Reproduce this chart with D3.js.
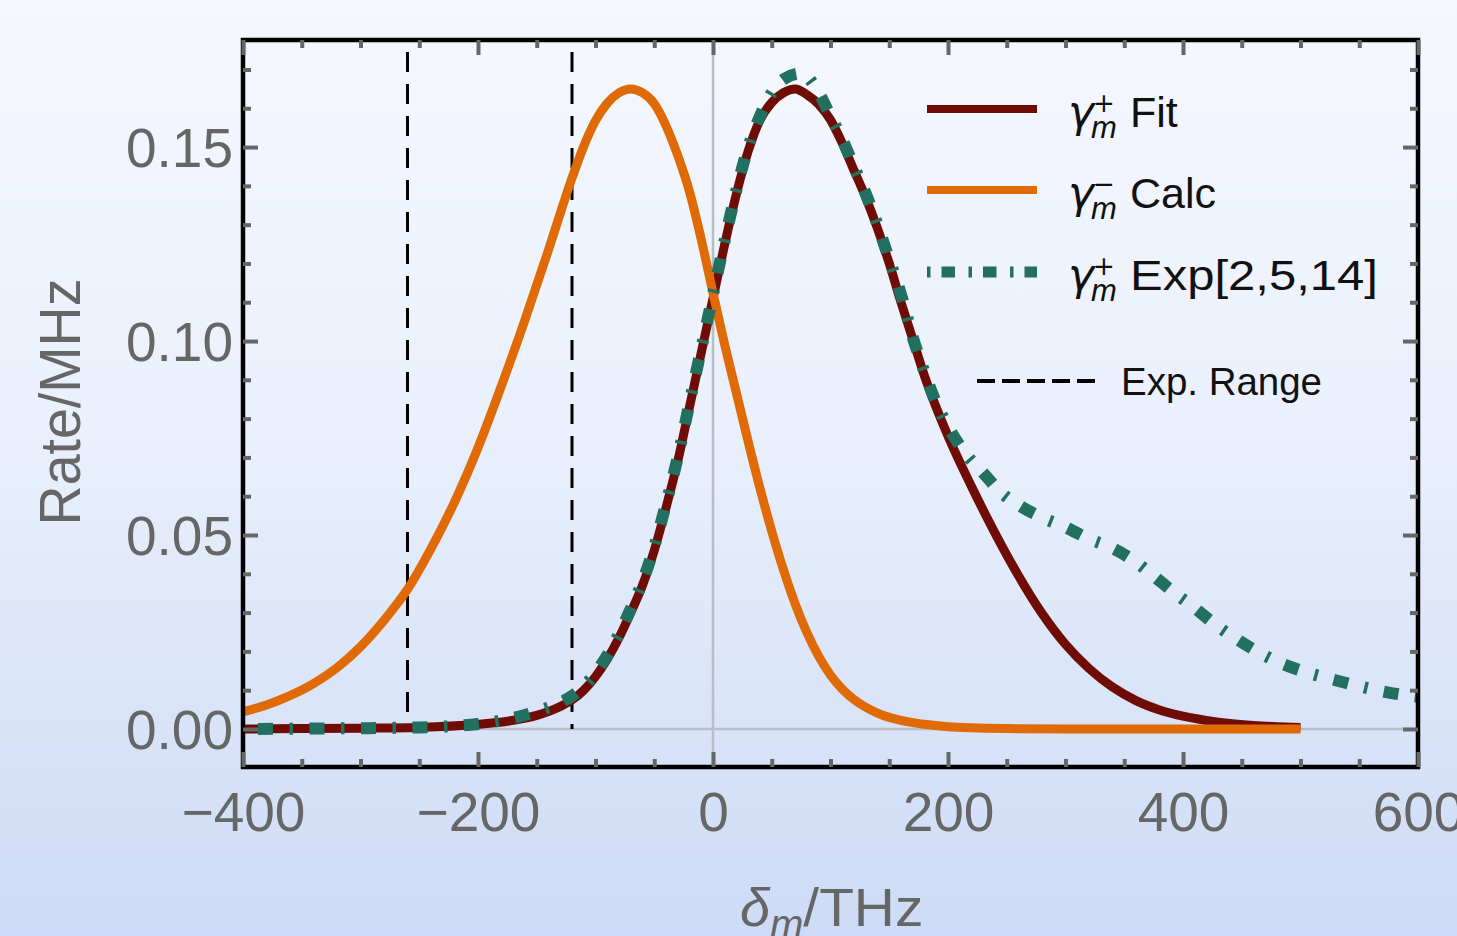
<!DOCTYPE html>
<html>
<head>
<meta charset="utf-8">
<script src="https://cdn.jsdelivr.net/npm/d3@7"></script>
<style>
  html, body { margin: 0; padding: 0; }
  body { width: 1457px; height: 936px; overflow: hidden; }
  svg { display: block; }
</style>
</head>
<body>
<svg id="chart" width="1457" height="936"></svg>
<script>
// ---------------- data ----------------
const calcX = [-400,-380,-360,-340,-320,-300,-280,-260,-240,-220,-200,-180,-160,-140,-120,-110,-100,-90,-80,-70,-60,-50,-40,-30,-20,-10,0,10,20,30,40,50,60,70,80,90,100,110,120,140,160,180,200,220,250,300,350,400,450,500];
const calcY = [0.0044,0.0062,0.0086,0.0117,0.0158,0.0212,0.028,0.036,0.0465,0.0585,0.0725,0.0885,0.1055,0.1235,0.142,0.1502,0.1568,0.1613,0.164,0.165,0.164,0.1612,0.1555,0.1478,0.1385,0.1262,0.1124,0.099,0.0865,0.074,0.062,0.051,0.041,0.0322,0.0248,0.0187,0.0139,0.0103,0.0076,0.0041,0.0022,0.0012,0.0006,0.0003,0.0001,0,0,0,0,0];

const fitX = [-400,-350,-300,-250,-200,-175,-150,-130,-120,-110,-100,-90,-80,-70,-60,-50,-40,-30,-20,-10,0,10,20,30,40,50,60,70,80,90,100,110,120,130,140,150,160,170,180,200,220,240,260,280,300,320,340,360,380,400,420,440,460,480,500];
const fitY = [0,0.0001,0.0002,0.0004,0.0012,0.002,0.0035,0.0058,0.0075,0.010,0.0135,0.018,0.0235,0.030,0.037,0.046,0.057,0.069,0.083,0.097,0.111,0.125,0.138,0.149,0.157,0.1615,0.164,0.165,0.1635,0.161,0.157,0.151,0.144,0.137,0.129,0.120,0.110,0.1005,0.091,0.0755,0.0625,0.0505,0.0395,0.0298,0.0218,0.0156,0.0108,0.0073,0.0049,0.0033,0.0022,0.0014,0.0009,0.0006,0.0004];

const expX = [-400,-350,-300,-250,-200,-175,-150,-130,-120,-110,-100,-90,-80,-70,-60,-50,-40,-30,-20,-10,0,10,20,30,40,50,60,75,90,100,110,120,130,140,150,160,170,180,190,200,215,230,245,263,280,300,320,340,360,376,393,410,427,444,463,483,503,523,545,565,587,600];
const expY = [0,0.0001,0.0002,0.0004,0.0013,0.0025,0.0045,0.0068,0.0085,0.011,0.0145,0.019,0.0245,0.031,0.038,0.047,0.058,0.070,0.084,0.098,0.112,0.126,0.139,0.150,0.158,0.164,0.1675,0.169,0.164,0.158,0.152,0.145,0.138,0.130,0.121,0.112,0.101,0.092,0.084,0.078,0.071,0.066,0.061,0.0572,0.0545,0.052,0.049,0.0466,0.043,0.0392,0.035,0.0312,0.027,0.0235,0.020,0.017,0.0148,0.0131,0.0114,0.010,0.0088,0.0083];

const expRange = [-260, -120];

const xTickLabels = [-400, -200, 0, 200, 400, 600];
const yTickLabels = [0.00, 0.05, 0.10, 0.15];

const legendNames = ["Fit", "Calc", "Exp[2,5,14]"];
const legendSigns = ["+", "\u2212", "+"];

// ---------------- layout ----------------
const W = 1457, H = 936;
const L = 243, R = 1418, T = 40, B = 767;
const colRed = "#700c06", colOrange = "#df6a06", colTeal = "#22705f", colGray = "#666666";

const svg = d3.select("#chart");
const defs = svg.append("defs");
const grad = defs.append("linearGradient").attr("id", "bg").attr("x1", 0).attr("y1", 0).attr("x2", 0).attr("y2", 1);
grad.append("stop").attr("offset", "0%").attr("stop-color", "#f6f8fe");
grad.append("stop").attr("offset", "45%").attr("stop-color", "#eaf0fc");
grad.append("stop").attr("offset", "100%").attr("stop-color", "#cddbf6");
svg.append("rect").attr("width", W).attr("height", H).attr("fill", "url(#bg)");

defs.append("clipPath").attr("id", "clip").append("rect")
  .attr("x", L).attr("y", T).attr("width", R - L).attr("height", B - T);

const x = d3.scaleLinear().domain([-400, 600]).range([L, R]);
const y = d3.scaleLinear().domain([-0.0098, 0.1776]).range([B, T]);

// grid lines at zero
const plot = svg.append("g").attr("clip-path", "url(#clip)");
plot.append("line").attr("x1", x(0)).attr("x2", x(0)).attr("y1", T).attr("y2", B)
  .attr("stroke", "#b9bdc5").attr("stroke-width", 2.5);
plot.append("line").attr("x1", L).attr("x2", R).attr("y1", y(0)).attr("y2", y(0))
  .attr("stroke", "#b9bdc5").attr("stroke-width", 2.5);

// exp range dashed lines
expRange.forEach(v => {
  plot.append("line").attr("x1", x(v)).attr("x2", x(v)).attr("y1", T).attr("y2", y(0))
    .attr("stroke", "#000").attr("stroke-width", 3).attr("stroke-dasharray", "20,12")
    .attr("stroke-dashoffset", -12);
});

const line = d3.line().x(d => x(d[0])).y(d => y(d[1])).curve(d3.curveMonotoneX);
const fitData = fitX.map((v, i) => [v, fitY[i]]);
const calcData = calcX.map((v, i) => [v, calcY[i]]);
const expData = expX.map((v, i) => [v, expY[i]]);

plot.append("path").datum(fitData).attr("d", line).attr("fill", "none")
  .attr("stroke", colRed).attr("stroke-width", 9).attr("stroke-linejoin", "round");
plot.append("path").datum(calcData).attr("d", line).attr("fill", "none")
  .attr("stroke", colOrange).attr("stroke-width", 9).attr("stroke-linejoin", "round");
plot.append("path").datum(expData).attr("d", line).attr("fill", "none")
  .attr("stroke", colTeal).attr("stroke-width", 12)
  .attr("stroke-dasharray", "15,16.5,3.5,16.5").attr("stroke-dashoffset", -15);

// frame
svg.append("rect").attr("x", L).attr("y", T).attr("width", R - L).attr("height", B - T)
  .attr("fill", "none").attr("stroke", "#000").attr("stroke-width", 4.5);

// ticks (inside frame)
const xMinor = d3.range(-400, 601, 50).filter(v => v % 200 !== 0);
const xMajor = d3.range(-400, 601, 200);
const yMinor = d3.range(0, 0.1776, 0.01).map(v => +v.toFixed(2)).filter(v => Math.round(v * 100) % 5 !== 0);
const yMajor = [0, 0.05, 0.10, 0.15];

function styleTicks(g) {
  g.select(".domain").remove();
  g.selectAll(".tick line").attr("stroke", colGray).attr("stroke-width", 4);
  g.selectAll(".tick text").remove();
}
svg.append("g").attr("transform", `translate(0,${B})`).call(d3.axisTop(x).tickValues(xMinor).tickSize(8)).call(styleTicks);
svg.append("g").attr("transform", `translate(0,${B})`).call(d3.axisTop(x).tickValues(xMajor).tickSize(15)).call(styleTicks);
svg.append("g").attr("transform", `translate(0,${T})`).call(d3.axisBottom(x).tickValues(xMinor).tickSize(8)).call(styleTicks);
svg.append("g").attr("transform", `translate(0,${T})`).call(d3.axisBottom(x).tickValues(xMajor).tickSize(15)).call(styleTicks);
svg.append("g").attr("transform", `translate(${L},0)`).call(d3.axisRight(y).tickValues(yMinor).tickSize(8)).call(styleTicks);
svg.append("g").attr("transform", `translate(${L},0)`).call(d3.axisRight(y).tickValues(yMajor).tickSize(15)).call(styleTicks);
svg.append("g").attr("transform", `translate(${R},0)`).call(d3.axisLeft(y).tickValues(yMinor).tickSize(8)).call(styleTicks);
svg.append("g").attr("transform", `translate(${R},0)`).call(d3.axisLeft(y).tickValues(yMajor).tickSize(15)).call(styleTicks);

// tick labels
const gx = svg.append("g").attr("transform", `translate(0,${B})`)
  .call(d3.axisBottom(x).tickValues(xTickLabels).tickSize(0).tickPadding(25).tickFormat(d3.format("d")));
gx.select(".domain").remove();
gx.selectAll("text").attr("font-family", "Liberation Sans, Arial, sans-serif").attr("font-size", 55).attr("fill", colGray);

const gy = svg.append("g").attr("transform", `translate(${L},0)`)
  .call(d3.axisLeft(y).tickValues(yTickLabels).tickSize(0).tickPadding(10).tickFormat(d3.format(".2f")));
gy.select(".domain").remove();
gy.selectAll("text").attr("font-family", "Liberation Sans, Arial, sans-serif").attr("font-size", 55)
  .attr("fill", colGray).attr("dy", "0.36em");

// axis titles
svg.append("text").attr("transform", "translate(80,402) rotate(-90)").attr("text-anchor", "middle")
  .attr("font-family", "Liberation Sans, Arial, sans-serif").attr("font-size", 57).attr("fill", colGray)
  .attr("textLength", 247).attr("lengthAdjust", "spacingAndGlyphs").text("Rate/MHz");

const xt = svg.append("text").attr("x", 740).attr("y", 926)
  .attr("font-family", "Liberation Sans, Arial, sans-serif").attr("font-size", 54).attr("fill", colGray);
xt.append("tspan").attr("font-style", "italic").text("\u03b4");
xt.append("tspan").attr("font-style", "italic").attr("font-size", 40).attr("dy", 12).text("m");
xt.append("tspan").attr("dy", -12).attr("textLength", 120).attr("lengthAdjust", "spacingAndGlyphs").text("/THz");

// legend
const legY = [109, 190, 272];
const legCols = [colRed, colOrange, colTeal];
legendNames.forEach((name, i) => {
  const ly = legY[i];
  const ln = svg.append("line").attr("x1", 927).attr("x2", 1037).attr("y1", ly).attr("y2", ly)
    .attr("stroke", legCols[i]).attr("stroke-width", i === 2 ? 11 : 8);
  if (i === 2) ln.attr("stroke-dasharray", "3.5,11,13.5,13.5");
  const base = ly + 18;
  const t = svg.append("text").attr("x", 1068).attr("y", base)
    .attr("font-family", "Liberation Sans, Arial, sans-serif").attr("fill", "#111");
  t.append("tspan").attr("font-family", "DejaVu Sans, sans-serif").attr("font-style", "italic")
    .attr("font-size", 44).text("\u03b3");
  t.append("tspan").attr("x", 1093).attr("dy", -15).attr("font-family", "DejaVu Sans, sans-serif")
    .attr("font-size", 26).text(legendSigns[i]);
  t.append("tspan").attr("x", 1091).attr("dy", 26).attr("font-style", "italic")
    .attr("font-size", 31).text("m");
  const nm = t.append("tspan").attr("x", 1130).attr("dy", -11).attr("font-size", 43).text(name);
  if (i === 2) nm.attr("textLength", 248).attr("lengthAdjust", "spacingAndGlyphs");
});
svg.append("line").attr("x1", 977).attr("x2", 1095).attr("y1", 381).attr("y2", 381)
  .attr("stroke", "#000").attr("stroke-width", 4).attr("stroke-dasharray", "18,7");
svg.append("text").attr("x", 1121).attr("y", 395)
  .attr("font-family", "Liberation Sans, Arial, sans-serif").attr("font-size", 39)
  .attr("fill", "#111").attr("textLength", 201).attr("lengthAdjust", "spacingAndGlyphs").text("Exp. Range");
</script>
</body>
</html>
